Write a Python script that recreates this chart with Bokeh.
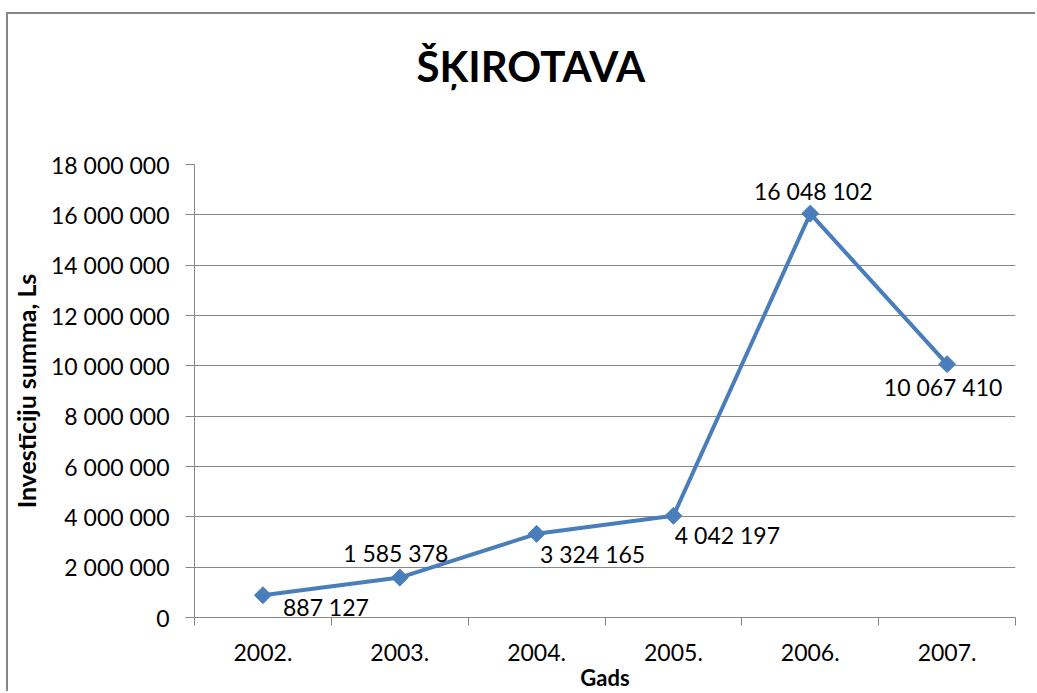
import numpy as np
from bokeh.plotting import figure
from bokeh.models import Range1d, FixedTicker, ColumnDataSource
from bokeh.core.properties import value
from bokeh.embed import file_html
from bokeh.resources import INLINE

# ---- data ----
title_text = "ŠĶIROTAVA"
years = ["2002.", "2003.", "2004.", "2005.", "2006.", "2007."]
investments = [887127, 1585378, 3324165, 4042197, 16048102, 10067410]
y_ticks = [0, 2000000, 4000000, 6000000, 8000000, 10000000,
           12000000, 14000000, 16000000, 18000000]
x_title = "Gads"
y_title = "Investīciju summa, Ls"

# label placement (pixel offsets from each point)
label_dx = [63, -4, 56, 54, 3, -4]
label_dy = [12, -25, 20, 19, -23, 23]


def fmt(v):
    return f"{v:,}".replace(",", " ")


FONT = "Lato"
BLUE = "#4A7EBB"
GRAY = "#868686"

xs = list(np.arange(1, len(years) + 1))
src = ColumnDataSource(dict(
    x=xs, y=investments, label=[fmt(v) for v in investments],
    dx=label_dx, dy=label_dy))

p = figure(width=1029, height=679, output_backend="svg", toolbar_location=None,
           x_range=Range1d(0.5, len(years) + 0.5),
           y_range=Range1d(y_ticks[0], y_ticks[-1]),
           min_border_left=185, min_border_right=22,
           min_border_top=150, min_border_bottom=76)
p.margin = (12, 0, 0, 6)
p.styles = {"border-left": f"2px solid {GRAY}", "border-top": f"2px solid {GRAY}"}

p.background_fill_color = "white"
p.border_fill_color = "white"
p.outline_line_color = None

# title (second empty line keeps the gap above the plot area)
p.title.text = title_text + "\n"
p.title.text_font = FONT
p.title.text_font_style = "bold"
p.title.text_font_size = "42px"
p.title.text_color = "black"
p.title.align = "left"
p.title.offset = 222
p.title.standoff = 47

# grid
p.xgrid.grid_line_color = None
p.ygrid.grid_line_color = GRAY
p.ygrid.grid_line_width = 1
p.ygrid.ticker = FixedTicker(ticks=y_ticks)

# y axis
ya = p.yaxis[0]
ya.ticker = FixedTicker(ticks=y_ticks)
ya.major_label_overrides = {t: fmt(t) for t in y_ticks}
ya.axis_line_color = GRAY
ya.major_tick_line_color = GRAY
ya.major_tick_out = 9
ya.major_tick_in = 0
ya.minor_tick_line_color = None
ya.major_label_standoff = 16
ya.major_label_text_font = FONT
ya.major_label_text_font_size = "23px"
ya.major_label_text_color = "black"
ya.axis_label = y_title
ya.axis_label_text_font = FONT
ya.axis_label_text_font_style = "bold"
ya.axis_label_text_font_size = "25px"
ya.axis_label_text_color = "black"
ya.axis_label_standoff = 7

# x axis
xa = p.xaxis[0]
bounds = list(np.arange(0.5, len(years) + 1, 1.0))
xa.ticker = FixedTicker(ticks=xs, minor_ticks=bounds)
xa.major_label_overrides = {int(x): y for x, y in zip(xs, years)}
xa.axis_line_color = GRAY
xa.major_tick_line_color = None
xa.major_tick_out = 8
xa.major_tick_in = 0
xa.minor_tick_line_color = GRAY
xa.minor_tick_out = 8
xa.minor_tick_in = 0
xa.major_label_standoff = 18
xa.major_label_text_font = FONT
xa.major_label_text_font_size = "23px"
xa.major_label_text_color = "black"
xa.axis_label = x_title
xa.axis_label_text_font = FONT
xa.axis_label_text_font_style = "bold"
xa.axis_label_text_font_size = "22px"
xa.axis_label_text_color = "black"
xa.axis_label_standoff = 0

# series
p.line("x", "y", source=src, line_color=BLUE, line_width=4)
p.scatter("x", "y", source=src, marker="square", angle=np.pi / 4, size=12,
          fill_color=BLUE, line_color=BLUE)
p.text("x", "y", text="label", source=src, x_offset="dx", y_offset="dy",
       text_align="center", text_baseline="middle",
       text_font=value(FONT), text_font_size="23px", text_color="black")

open("out.html", "w").write(file_html(p, INLINE))
